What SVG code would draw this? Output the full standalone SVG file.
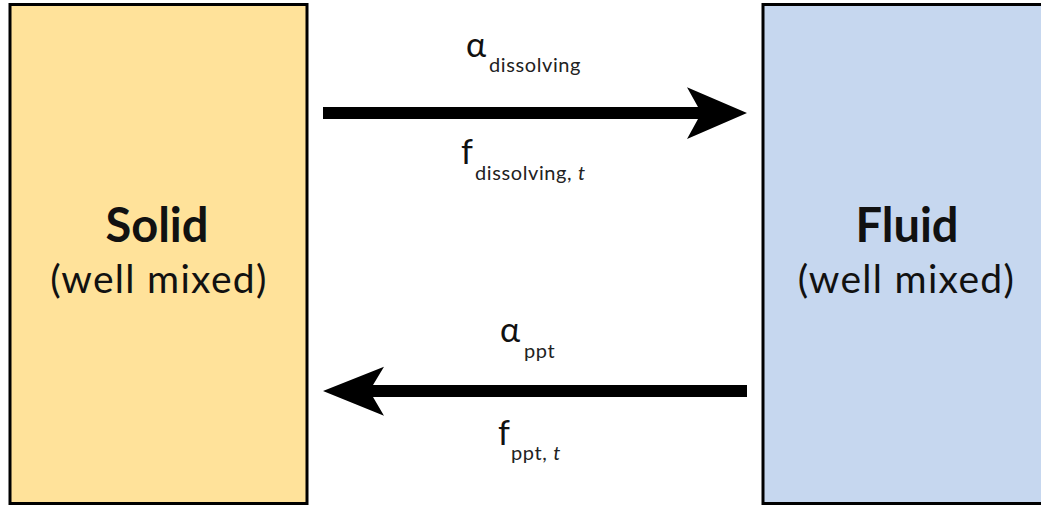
<svg xmlns="http://www.w3.org/2000/svg" width="1041" height="506" viewBox="0 0 1041 506">
  <style>
    .box { stroke: #000; stroke-width: 3; }
    .title { font-family: Lato, "Noto Sans", sans-serif; font-weight: 700; font-size: 47px; fill: #111; text-anchor: middle; }
    .sub { font-family: Lato, "Noto Sans", sans-serif; font-weight: 400; font-size: 39px; letter-spacing: 1.3px; fill: #111; text-anchor: middle; }
    .sym { font-family: Lato, "Noto Sans", sans-serif; font-weight: 400; font-size: 34px; fill: #111; }
    .idx { font-family: Lato, "Noto Sans", sans-serif; font-size: 20px; letter-spacing: 0.6px; fill: #222; }
    .it { font-style: italic; }
    .shaft { fill: #000; }
  </style>

  <rect width="1041" height="506" fill="#fff"/>

  <g id="solid">
    <rect class="box" x="10" y="4.5" width="297" height="499" fill="#FFE29A"/>
    <text class="title" x="157" y="242">Solid</text>
    <text class="sub" x="159" y="293">(well mixed)</text>
  </g>

  <g id="fluid">
    <rect class="box" x="763" y="4.5" width="300" height="499" fill="#C6D7EF"/>
    <text class="title" x="907" y="242">Fluid</text>
    <text class="sub" x="906.5" y="293">(well mixed)</text>
  </g>

  <g id="connectors">
    <!-- Solid to Fluid: dissolving -->
    <path class="shaft" d="M323 107 H698 L687 87.3 L747 113 L687 139 L698 119 H323 Z"/>
    <!-- Fluid to Solid: precipitation -->
    <path class="shaft" d="M747 385 H373 L384 366.7 L323 391 L384 415.7 L373 397 H747 Z"/>
  </g>

  <g id="labels">
    <text><tspan class="sym" x="466" y="57">α</tspan><tspan class="idx" x="489" y="72">dissolving</tspan></text>
    <text><tspan class="sym" x="461" y="164">f</tspan><tspan class="idx" x="475" y="180">dissolving, </tspan><tspan class="idx it">t</tspan></text>
    <text><tspan class="sym" x="500" y="342">α</tspan><tspan class="idx" x="524" y="358">ppt</tspan></text>
    <text><tspan class="sym" x="498" y="445">f</tspan><tspan class="idx" x="511" y="460">ppt, </tspan><tspan class="idx it">t</tspan></text>
  </g>
</svg>
